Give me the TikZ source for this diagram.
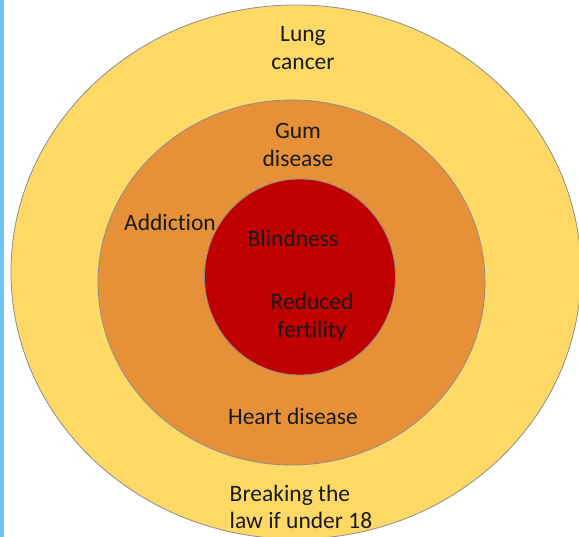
\documentclass[tikz,border=0pt]{standalone}
\usepackage{fontspec}
\setmainfont{Carlito}[Ligatures=NoCommon]
\usepackage{tikz}
\usetikzlibrary{positioning}
\definecolor{Gold}{HTML}{FFD966}
\definecolor{Amber}{HTML}{E69138}
\definecolor{Crimson}{HTML}{C00000}
\definecolor{Rim}{HTML}{8E8E8E}
\definecolor{Sky}{HTML}{71C5EF}
\definecolor{Ink}{HTML}{1A1A1A}

\begin{document}
\begin{tikzpicture}[x=1pt,y=-1pt,
    ring/.style={draw=Rim,line width=0.8pt},
    harm/.style={text=Ink,align=center,inner sep=0pt,
      font=\fontsize{23.5}{27.5}\selectfont}
  ]
    \useasboundingbox (0,0) rectangle (579,537);
    \clip (0,0) rectangle (579,537);
    \fill[white] (0,0) rectangle (579,537);
    \fill[Sky] (0,0) rectangle (4,537);
    % three rings, outside in
    \draw[ring,fill=Gold] (296,272) ellipse [x radius=285,y radius=267];
    \draw[ring,fill=Amber] (291.5,282.5) ellipse [x radius=193.5,y radius=182.5];
    \draw[ring,fill=Crimson] (300,277) ellipse [x radius=95.5,y radius=98];
    \node[harm] (lung) at (303,48) {Lung\\cancer};
    \node[harm] (gum) at (298,145) {Gum\\disease};
    \node[harm] (addict) at (170,222) {Addiction};
    \node[harm] (blind) at (293,238) {Blindness};
    \node[harm] (fertile) at (312,317) {Reduced\\fertility};
    \node[harm] (heart) at (293,416) {Heart disease};
    \node[harm,align=left] (law) at (301,507) {Breaking the\\law if under 18};
  \end{tikzpicture}
\end{document}
